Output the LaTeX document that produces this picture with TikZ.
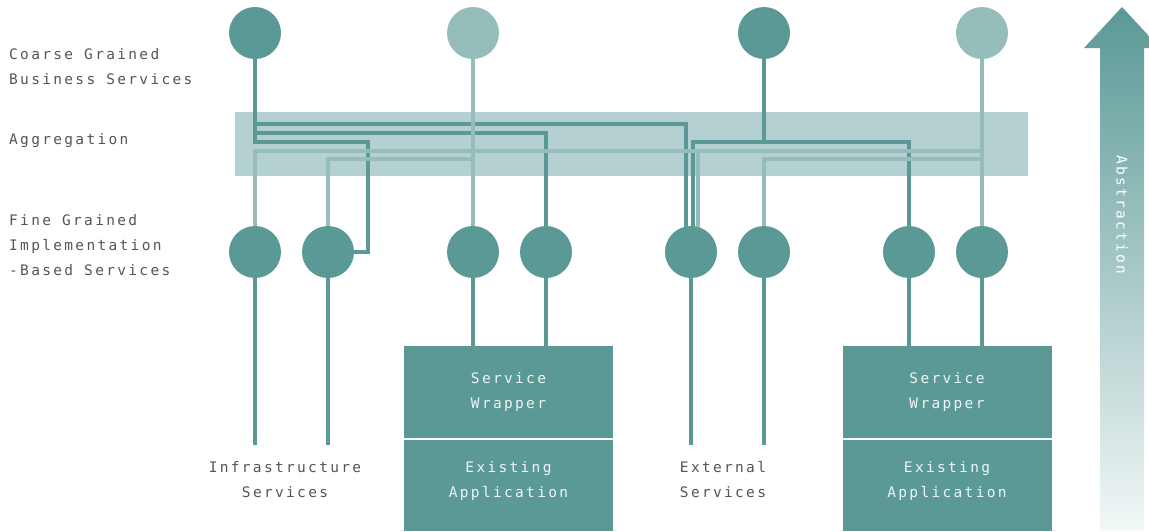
\documentclass[tikz,border=0pt]{standalone}
\usepackage{fontspec}
\usetikzlibrary{backgrounds}

\newfontfamily\lblfont[LetterSpace=16]{DejaVu Sans Mono}
\newcommand\lbltext{\lblfont\fontsize{14.5}{25}\selectfont}

\definecolor{dkteal}{HTML}{5A9996}
\definecolor{ltteal}{HTML}{95BEBB}
\definecolor{bandcol}{HTML}{B5D0D0}
\definecolor{txtgray}{HTML}{555555}
\definecolor{boxtxt}{HTML}{EEF5F5}
\definecolor{arrowbot}{HTML}{F2F7F7}

\begin{document}
\begin{tikzpicture}[x=1pt, y=-1pt,
        dot/.style={circle, fill=dkteal, minimum size=52, inner sep=0},
        ltdot/.style={dot, fill=ltteal},
        dk/.style={draw=dkteal, line width=4},
        lt/.style={draw=ltteal, line width=4},
        box/.style={fill=dkteal, minimum width=209, inner sep=0, align=center, text=boxtxt, font=\lbltext},
        lbl/.style={align=left, text=txtgray, font=\lbltext, inner sep=0}]
        \useasboundingbox (0,0) rectangle (1149,531);

        \node[dot] (t1) at (255,33) {};
        \node[ltdot] (t2) at (473,33) {};
        \node[dot] (t3) at (764,33) {};
        \node[ltdot] (t4) at (982,33) {};

        \node[dot] (b1) at (255,252) {};
        \node[dot] (b2) at (328,252) {};
        \node[dot] (b3) at (473,252) {};
        \node[dot] (b4) at (546,252) {};
        \node[dot] (b5) at (691,252) {};
        \node[dot] (b6) at (764,252) {};
        \node[dot] (b7) at (909,252) {};
        \node[dot] (b8) at (982,252) {};

        \node[box, minimum height=92] (w1) at (508.5,392) {Service\\Wrapper};
        \node[box, minimum height=91, text depth=11.5] (e1) at (508.5,485.7) {Existing\\Application};
        \node[box, minimum height=92] (w2) at (947,392) {Service\\Wrapper};
        \node[box, minimum height=91, text depth=11.5] (e2) at (947,485.7) {Existing\\Application};

        \node[lbl, anchor=west] (cg) at (9,67) {Coarse Grained\\Business Services};
        \node[lbl, anchor=west] (ag) at (9,141) {Aggregation};
        \node[lbl, anchor=west] (fg) at (9,245) {Fine Grained\\Implementation\\-Based Services};
        \node[lbl, align=center] (inf) at (285,480) {Infrastructure\\Services};
        \node[lbl, align=center] (ext) at (723,480) {External\\Services};

        \shade[top color=dkteal, bottom color=arrowbot]
                (1100,531) -- (1100,48) -- (1084,48) -- (1122,7) -- (1160,48)
                -- (1144,48) -- (1144,531) -- cycle;
        \node[lbl, text=white, rotate=-90] (abs) at (1122,215) {Abstraction};

        \begin{scope}[on background layer]
                \fill[bandcol] (235,112) rectangle (1028,176);

                \draw[dk] (t1.center) -- ++(0,91) -| ([xshift=-5pt]b5.center);
                \draw[dk] (t1.center) -- ++(0,100) -| (b4.center);
                \draw[dk] (t1.center) -- ++(0,109) -| ++(113,110) -- (b2.center);
                \draw[dk] (t3.center) -- ++(0,109) -| ([xshift=2pt]b5.center);
                \draw[dk] (t3.center) -- ++(0,109) -| (b7.center);

                \draw[lt] (t4.center) -- (b8.center);
                \draw[lt] (t4.center) -- ++(0,118) -| (b1.center);
                \draw[lt] (t4.center) -- ++(0,118) -| ([xshift=7pt]b5.center);
                \draw[lt] (t4.center) -- ++(0,126) -| (b6.center);
                \draw[lt] (t2.center) -- (b3.center);
                \draw[lt] (t2.center) -- ++(0,126) -| (b2.center);

                \draw[dk] (b1.center) -- ++(0,193);
                \draw[dk] (b2.center) -- ++(0,193);
                \draw[dk] (b5.center) -- ++(0,193);
                \draw[dk] (b6.center) -- ++(0,193);
                \draw[dk] (b3.center) -- (b3 |- w1.north);
                \draw[dk] (b4.center) -- (b4 |- w1.north);
                \draw[dk] (b7.center) -- (b7 |- w2.north);
                \draw[dk] (b8.center) -- (b8 |- w2.north);
        \end{scope}
\end{tikzpicture}
\end{document}
